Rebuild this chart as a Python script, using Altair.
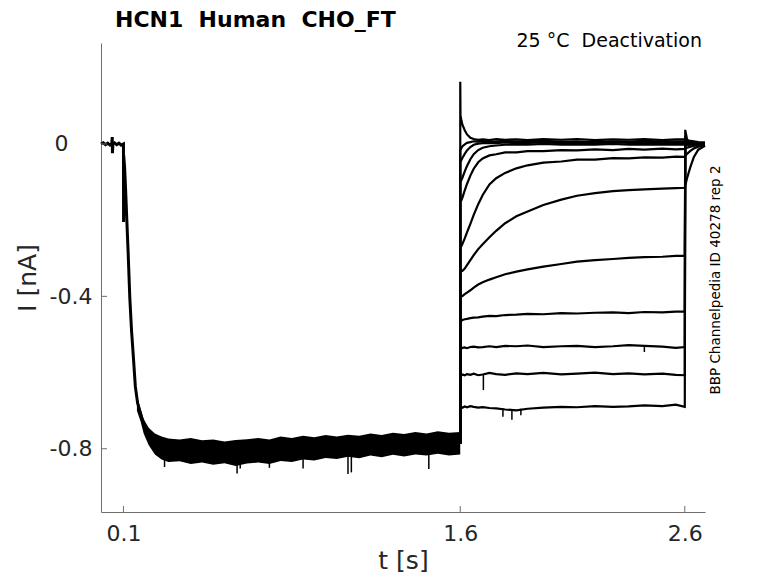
import altair as alt
import pandas as pd

NB = "\u00a0"

# ---------------- data ----------------
# holding + activation step (shared by all sweeps)
t_main = [0.0, 0.01, 0.02, 0.03, 0.04, 0.048, 0.05, 0.051, 0.053, 0.06, 0.07, 0.08, 0.09, 0.1,
          0.1005, 0.101, 0.105, 0.109, 0.115, 0.121, 0.128, 0.136, 0.143, 0.153, 0.163, 0.176,
          0.19, 0.212]
i_main = [0.0, 0.003, -0.002, 0.002, -0.003, 0.001, 0.018, -0.024, 0.0, 0.003, -0.002, 0.002,
          -0.003, 0.0, -0.205, -0.03, -0.06, -0.112, -0.2, -0.287, -0.40, -0.49, -0.549, -0.637,
          -0.68, -0.707, -0.735, -0.751]

# noisy plateau of the activation step (envelope of all sweeps)
t_band = [0.16, 0.176, 0.19, 0.212, 0.24, 0.27, 0.3, 0.35, 0.4, 0.45, 0.5, 0.55, 0.6, 0.65, 0.7,
          0.75, 0.8, 0.85, 0.9, 0.95, 1.0, 1.05, 1.1, 1.15, 1.2, 1.25, 1.3, 1.35, 1.4, 1.45, 1.5,
          1.55, 1.6]
band_hi = [-0.66, -0.695, -0.722, -0.745, -0.76, -0.768, -0.773, -0.776, -0.772, -0.778, -0.776,
           -0.781, -0.777, -0.775, -0.772, -0.776, -0.768, -0.772, -0.766, -0.770, -0.764, -0.768,
           -0.763, -0.766, -0.760, -0.764, -0.758, -0.761, -0.756, -0.760, -0.754, -0.758, -0.756]
band_lo = [-0.70, -0.728, -0.76, -0.79, -0.815, -0.828, -0.835, -0.833, -0.84, -0.836, -0.842,
           -0.838, -0.845, -0.839, -0.836, -0.84, -0.832, -0.835, -0.828, -0.831, -0.824, -0.827,
           -0.821, -0.825, -0.818, -0.822, -0.816, -0.82, -0.815, -0.818, -0.813, -0.818, -0.815]

# isolated downward noise spikes
spike_t = [0.283, 0.606, 0.62, 0.75, 0.9, 1.10, 1.115, 1.46, 1.703, 1.79, 1.83, 1.87, 2.42]
spike_hi = [-0.80, -0.80, -0.80, -0.80, -0.80, -0.80, -0.80, -0.80, -0.604, -0.694, -0.696,
            -0.695, -0.531]
spike_lo = [-0.848, -0.865, -0.852, -0.85, -0.852, -0.866, -0.862, -0.853, -0.646, -0.716, -0.724,
            -0.712, -0.546]

plateau_end = -0.786

# deactivation steps (one list per sweep)
t_deact = [1.601, 1.605, 1.61, 1.62, 1.63, 1.645, 1.66, 1.68, 1.7, 1.73, 1.76, 1.8, 1.85, 1.9,
           1.97, 2.05, 2.12, 2.2, 2.28, 2.35, 2.42, 2.5, 2.56, 2.6]
t_tail = [2.602, 2.61, 2.625, 2.64, 2.66, 2.69]

step_peak = [0.163, -0.016, -0.047, -0.1, -0.152, -0.27, -0.33, -0.396, -0.462, -0.535, -0.606, -0.693]

sw01 = [0.075, 0.062, 0.05, 0.036, 0.025, 0.016, 0.013, 0.011, 0.012, 0.01, 0.013, 0.011, 0.012,
        0.01, 0.013, 0.011, 0.013, 0.01, 0.012, 0.011, 0.013, 0.01, 0.012, 0.012]
sw02 = [-0.016, -0.011, -0.006, -0.001, 0.003, 0.005, 0.007, 0.006, 0.008, 0.006, 0.007, 0.008,
        0.006, 0.007, 0.008, 0.006, 0.007, 0.005, 0.007, 0.006, 0.008, 0.006, 0.007, 0.007]
sw03 = [-0.047, -0.042, -0.036, -0.026, -0.017, -0.008, -0.002, 0.001, 0.002, 0.003, 0.002,
        0.004, 0.002, 0.003, 0.004, 0.002, 0.003, 0.002, 0.004, 0.003, 0.002, 0.003, 0.002, 0.003]
sw04 = [-0.1, -0.095, -0.088, -0.072, -0.058, -0.04, -0.027, -0.016, -0.01, -0.006, -0.004, -0.002,
        -0.001, -0.002, 0.0, -0.002, -0.001, -0.002, 0.0, -0.002, -0.001, -0.002, -0.001, -0.002]
sw05 = [-0.152, -0.148, -0.14, -0.122, -0.105, -0.083, -0.065, -0.048, -0.038, -0.03, -0.027,
        -0.022, -0.022, -0.019, -0.019, -0.016, -0.017, -0.014, -0.016, -0.013, -0.015, -0.012,
        -0.014, -0.013]
sw06 = [-0.27, -0.268, -0.262, -0.248, -0.232, -0.21, -0.186, -0.158, -0.134, -0.106, -0.09,
        -0.076, -0.064, -0.056, -0.049, -0.046, -0.041, -0.041, -0.037, -0.038, -0.035, -0.036,
        -0.033, -0.034]
sw07 = [-0.33, -0.334, -0.333, -0.327, -0.318, -0.305, -0.292, -0.276, -0.263, -0.245, -0.228,
        -0.208, -0.19, -0.177, -0.16, -0.146, -0.136, -0.129, -0.124, -0.121, -0.119, -0.117,
        -0.116, -0.115]
sw08 = [-0.396, -0.4, -0.399, -0.394, -0.39, -0.384, -0.377, -0.369, -0.363, -0.356, -0.35, -0.342,
        -0.335, -0.329, -0.322, -0.315, -0.309, -0.305, -0.302, -0.299, -0.297, -0.296, -0.294,
        -0.294]
sw09 = [-0.462, -0.464, -0.462, -0.46, -0.459, -0.457, -0.456, -0.455, -0.453, -0.451, -0.452,
        -0.449, -0.448, -0.446, -0.447, -0.444, -0.445, -0.443, -0.442, -0.444, -0.441, -0.442,
        -0.44, -0.44]
sw10 = [-0.535, -0.537, -0.535, -0.534, -0.536, -0.533, -0.532, -0.534, -0.533, -0.531, -0.533,
        -0.53, -0.531, -0.529, -0.533, -0.531, -0.53, -0.533, -0.531, -0.528, -0.53, -0.532,
        -0.535, -0.533]
sw11 = [-0.606, -0.608, -0.605, -0.607, -0.604, -0.606, -0.603, -0.607, -0.605, -0.601, -0.604,
        -0.606, -0.602, -0.604, -0.601, -0.605, -0.603, -0.6, -0.604, -0.602, -0.605, -0.603,
        -0.606, -0.607]
sw12 = [-0.693, -0.69, -0.692, -0.689, -0.691, -0.688, -0.69, -0.692, -0.691, -0.693, -0.694,
        -0.697, -0.699, -0.695, -0.692, -0.69, -0.691, -0.688, -0.69, -0.689, -0.686, -0.688,
        -0.684, -0.69]

tail01 = [0.01, 0.009, 0.008, 0.007, 0.005, 0.004]
tail02 = [0.006, 0.005, 0.005, 0.004, 0.003, 0.002]
tail03 = [0.002, 0.002, 0.002, 0.001, 0.001, 0.0]
tail04 = [-0.004, -0.003, -0.002, -0.002, -0.001, -0.001]
tail05 = [-0.012, -0.01, -0.007, -0.005, -0.003, -0.002]
tail06 = [-0.032, -0.026, -0.018, -0.012, -0.007, -0.003]
tail07 = [-0.11, -0.09, -0.06, -0.035, -0.015, -0.005]
tail08 = [0.02, 0.008, 0.003, 0.001, 0.0, 0.0]
tail09 = [0.015, 0.006, 0.002, 0.0, 0.0, 0.0]
tail10 = [0.01, 0.004, 0.001, 0.0, 0.0, -0.001]
tail11 = [0.012, 0.005, 0.002, 0.0, 0.0, 0.0]
tail12 = [0.037, 0.012, 0.004, 0.001, 0.0, 0.0]

sweeps = [sw01, sw02, sw03, sw04, sw05, sw06, sw07, sw08, sw09, sw10, sw11, sw12]
tails = [tail01, tail02, tail03, tail04, tail05, tail06, tail07, tail08, tail09, tail10, tail11, tail12]

x_tick_vals = [0.1, 1.6, 2.6]
x_tick_labels = ["0.1", "1.6", "2.6"]
y_tick_vals = [0, -0.4, -0.8]
y_tick_labels = ["0", "-0.4", "-0.8"]

title_text = "HCN1" + NB + " Human" + NB + " CHO_FT"
note_text = "25 °C" + NB + " Deactivation"
side_text = "BBP Channelpedia ID 40278 rep 2"

# ---------------- tables ----------------
df_main = pd.DataFrame({"t": t_main, "I": i_main, "idx": list(range(len(t_main)))})
df_band = pd.DataFrame({"t": t_band, "lo": band_lo, "hi": band_hi})
df_spike = pd.DataFrame({"t": spike_t, "lo": spike_lo, "hi": spike_hi})

rows = []
for k, (sw, tl) in enumerate(zip(sweeps, tails)):
    pts = [(1.6, plateau_end), (1.6, step_peak[k])] + list(zip(t_deact, sw)) + list(zip(t_tail, tl))
    for j, (t, v) in enumerate(pts):
        rows.append({"sweep": k, "idx": j, "t": t, "I": v})
df_deact = pd.DataFrame(rows)

df_xt = pd.DataFrame({"t": x_tick_vals})
df_yt = pd.DataFrame({"I": y_tick_vals})


def label_expr(vals, labels):
    expr = "''"
    for v, lab in reversed(list(zip(vals, labels))):
        expr = f"abs(datum.value - ({v})) < 1e-9 ? '{lab}' : ({expr})"
    return expr


W, H = 604, 469
FONT = "DejaVu Sans"
AX = "#6e6e6e"
TXT = "#262626"

x_scale = alt.Scale(domain=[0, 2.69], nice=False, zero=False)
y_scale = alt.Scale(domain=[-0.966, 0.265], nice=False, zero=False)

x_axis = alt.Axis(values=x_tick_vals, labelExpr=label_expr(x_tick_vals, x_tick_labels),
                  title="t [s]", ticks=False, grid=False, domainColor=AX, domainWidth=1,
                  labelFont=FONT, labelFontSize=22, labelColor=TXT, labelPadding=11,
                  labelFlush=False, labelOverlap=False,
                  titleFont=FONT, titleFontSize=25, titleFontWeight="normal", titleColor=TXT,
                  titlePadding=4)
y_axis = alt.Axis(values=y_tick_vals, labelExpr=label_expr(y_tick_vals, y_tick_labels),
                  title="I [nA]", ticks=False, grid=False, domainColor=AX, domainWidth=1,
                  labelFont=FONT, labelFontSize=22, labelColor=TXT,
                  labelPadding={"condition": {"test": "abs(datum.value) < 1e-9", "value": 33},
                                "value": 9},
                  labelFlush=False, labelOverlap=False,
                  titleFont=FONT, titleFontSize=25, titleFontWeight="normal", titleColor=TXT,
                  titlePadding=9)

X = lambda f: alt.X(f, scale=x_scale, axis=x_axis)
Y = lambda f: alt.Y(f, scale=y_scale, axis=y_axis)

main_line = alt.Chart(df_main).mark_line(color="black", strokeWidth=3).encode(
    x=X("t:Q"), y=Y("I:Q"), order="idx:Q",
)

band = alt.Chart(df_band).mark_area(color="black", opacity=1).encode(
    x=X("t:Q"), y=Y("lo:Q"), y2="hi:Q",
)

spikes = alt.Chart(df_spike).mark_rule(color="black", strokeWidth=1.5).encode(
    x=X("t:Q"), y=Y("lo:Q"), y2="hi:Q",
)

deact = alt.Chart(df_deact).mark_line(color="black", strokeWidth=2.2).encode(
    x=X("t:Q"), y=Y("I:Q"), detail="sweep:N", order="idx:Q",
)

xticks = alt.Chart(df_xt).mark_rule(color=AX, strokeWidth=1).encode(
    x=X("t:Q"), y=alt.value(H), y2=alt.value(H - 6),
)
yticks = alt.Chart(df_yt).mark_rule(color=AX, strokeWidth=1).encode(
    y=Y("I:Q"), x=alt.value(0), x2=alt.value(6),
)

one = pd.DataFrame({"a": [0]})
title_mark = alt.Chart(one).mark_text(
    text=title_text, align="left", baseline="alphabetic", font=FONT, fontSize=22,
    fontWeight="bold", color="black"
).encode(x=alt.value(14), y=alt.value(-16))

note = alt.Chart(one).mark_text(
    text=note_text, align="right", baseline="alphabetic", font=FONT, fontSize=19, color="black"
).encode(x=alt.value(601), y=alt.value(4))

side = alt.Chart(one).mark_text(
    text=side_text, angle=270, align="center", baseline="middle", font=FONT, fontSize=13.5,
    color="black"
).encode(x=alt.value(615), y=alt.value(237))

chart = alt.layer(band, main_line, spikes, deact, xticks, yticks, title_mark, note, side).properties(
    width=W, height=H,
    autosize="none",
    padding={"left": 93, "top": 35, "right": 60, "bottom": 63},
).configure(background="white").configure_view(stroke=None)

chart.save("out.html", embed_options={"renderer": "svg", "actions": False})
